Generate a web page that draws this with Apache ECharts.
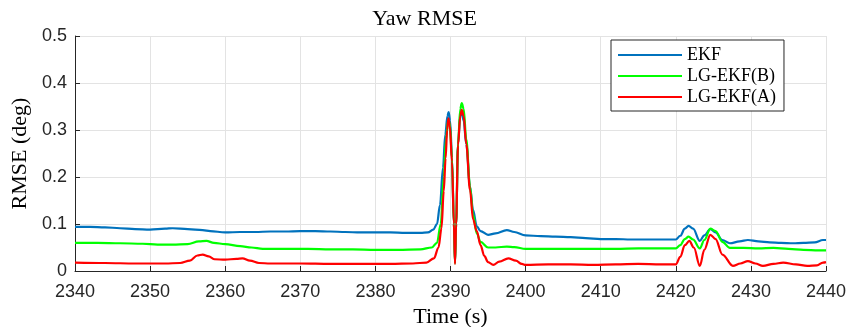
<!DOCTYPE html>
<html>
<head>
<meta charset="utf-8">
<script src="https://cdn.jsdelivr.net/npm/echarts@6/dist/echarts.min.js"></script>
<style>
  html, body { margin: 0; padding: 0; background: #fff; }
  #chart { width: 849px; height: 327px; }
</style>
</head>
<body>
<div id="chart"></div>
<script>
// Yaw RMSE of three filters over time (s)
const xTicks = [2340, 2350, 2360, 2370, 2380, 2390, 2400, 2410, 2420, 2430, 2440];
const yTicks = [0, 0.1, 0.2, 0.3, 0.4, 0.5];
const seriesNames = ['EKF', 'LG-EKF(B)', 'LG-EKF(A)'];

// EKF
const ekfT = [2340, 2342, 2344, 2346, 2348, 2350, 2352, 2353, 2355, 2357, 2358, 2360, 2362, 2364, 2366, 2368,
  2370, 2372, 2374, 2376, 2378, 2380, 2382, 2384, 2386, 2387, 2387.7, 2388.2, 2388.6, 2389.0, 2389.3, 2389.6,
  2389.75, 2389.95, 2390.2, 2390.45, 2390.6, 2390.75, 2391.0, 2391.3, 2391.5, 2391.75, 2392.1, 2392.6, 2393.0,
  2393.5, 2394, 2395, 2396, 2397.5, 2398.5, 2400, 2402, 2404, 2406, 2408, 2410, 2412, 2414, 2416, 2418, 2420,
  2420.6, 2421.2, 2421.7, 2422.3, 2423.2, 2423.8, 2424.6, 2425.3, 2426.2, 2427.2, 2428.5, 2429.6, 2431, 2432.5,
  2434, 2435.6, 2437, 2438.5, 2439.6, 2440];
const ekfV = [0.094, 0.094, 0.093, 0.091, 0.089, 0.088, 0.090, 0.091, 0.089, 0.087, 0.085, 0.082, 0.083, 0.083,
  0.084, 0.084, 0.085, 0.085, 0.084, 0.083, 0.082, 0.082, 0.082, 0.081, 0.081, 0.082, 0.088, 0.100, 0.14, 0.22,
  0.29, 0.33, 0.338, 0.32, 0.24, 0.10, 0.018, 0.10, 0.27, 0.33, 0.336, 0.32, 0.27, 0.18, 0.13,
  0.095, 0.085, 0.077, 0.080, 0.087, 0.083, 0.076, 0.074, 0.073, 0.072, 0.070, 0.068, 0.068, 0.067, 0.067, 0.067, 0.067,
  0.075, 0.090, 0.096, 0.090, 0.064, 0.076, 0.089, 0.082, 0.066, 0.059, 0.063, 0.066, 0.063, 0.061,
  0.060, 0.059, 0.060, 0.061, 0.066, 0.066];

// LG-EKF(B)
const lgbT = [2340, 2343, 2346, 2349, 2351, 2353, 2355, 2356.5, 2357.5, 2358.5, 2360, 2362, 2363.5, 2365, 2368,
  2371, 2374, 2377, 2380, 2383, 2386, 2387.5, 2388.2, 2388.7, 2389.1, 2389.4, 2389.7, 2389.9, 2390.2, 2390.45,
  2390.6, 2390.75, 2391.0, 2391.3, 2391.5, 2391.75, 2392.1, 2392.6, 2393.0, 2393.5, 2394, 2395, 2396, 2397.5,
  2398.5, 2400, 2403, 2406, 2409, 2412, 2415, 2418, 2420, 2420.6, 2421.2, 2421.7, 2422.3, 2423.2, 2423.8,
  2424.6, 2425.3, 2426.2, 2427.2, 2429, 2431, 2433, 2435, 2437, 2439, 2440];
const lgbV = [0.060, 0.060, 0.059, 0.058, 0.056, 0.056, 0.057, 0.063, 0.064, 0.060, 0.057, 0.053, 0.050, 0.047, 0.047,
  0.047, 0.046, 0.046, 0.045, 0.045, 0.046, 0.050, 0.060, 0.10, 0.20, 0.28, 0.322, 0.315, 0.24, 0.10,
  0.016, 0.10, 0.27, 0.345, 0.357, 0.345, 0.28, 0.18, 0.12, 0.08, 0.062, 0.050, 0.050, 0.052,
  0.051, 0.047, 0.047, 0.047, 0.047, 0.047, 0.048, 0.048, 0.048, 0.055, 0.068, 0.073, 0.067, 0.048, 0.066,
  0.090, 0.085, 0.062, 0.049, 0.049, 0.048, 0.049, 0.047, 0.045, 0.044, 0.044];

// LG-EKF(A)
const lgaT = [2340, 2344, 2348, 2352, 2354, 2355.3, 2356.3, 2357, 2357.8, 2358.6, 2360, 2361.5, 2362.3, 2363.3,
  2364.5, 2366, 2370, 2374, 2378, 2382, 2385, 2386.8, 2387.8, 2388.4, 2388.8, 2389.1, 2389.35, 2389.55, 2389.72,
  2389.9, 2390.2, 2390.45, 2390.6, 2390.75, 2391.0, 2391.3, 2391.5, 2391.75, 2392.1, 2392.6, 2393.0, 2393.5,
  2394, 2394.5, 2395, 2395.7, 2396.5, 2397.7, 2398.7, 2399.5, 2400, 2403, 2406, 2409, 2412, 2415, 2418, 2420,
  2420.6, 2421.2, 2421.8, 2422.4, 2423.2, 2423.8, 2424.6, 2425.3, 2426.2, 2427.6, 2428.6, 2429.6, 2430.6,
  2431.6, 2433, 2434.3, 2436, 2437.5, 2438.8, 2439.6, 2440];
const lgaV = [0.018, 0.017, 0.016, 0.016, 0.017, 0.022, 0.033, 0.035, 0.031, 0.025, 0.024, 0.026, 0.027, 0.022,
  0.017, 0.016, 0.016, 0.015, 0.015, 0.015, 0.016, 0.018, 0.027, 0.05, 0.091, 0.17, 0.24, 0.30, 0.325,
  0.31, 0.233, 0.10, 0.015, 0.10, 0.268, 0.33, 0.343, 0.33, 0.27, 0.172, 0.11, 0.085,
  0.055, 0.032, 0.019, 0.013, 0.020, 0.027, 0.022, 0.015, 0.013, 0.014, 0.014, 0.013, 0.014, 0.015, 0.014, 0.014,
  0.030, 0.055, 0.064, 0.050, 0.011, 0.045, 0.077, 0.068, 0.035, 0.011, 0.016, 0.021, 0.016,
  0.011, 0.015, 0.018, 0.014, 0.011, 0.012, 0.018, 0.019];

const colors = ['#0072BD', '#00FF00', '#FF0000'];
const pairs = (t, v) => t.map((x, i) => [x, v[i]]);
const seriesData = [pairs(ekfT, ekfV), pairs(lgbT, lgbV), pairs(lgaT, lgaV)];

const axisDark = '#262626';
const gridGray = '#e3e3e3';
const serif = '"Liberation Serif", "Times New Roman", serif';
const sans = '"Liberation Sans", Arial, Helvetica, sans-serif';

const chart = echarts.init(document.getElementById('chart'), null, { renderer: 'canvas' });
chart.setOption({
  animation: false,
  backgroundColor: '#fff',
  title: {
    text: 'Yaw RMSE',
    left: 'center',
    top: 8,
    padding: 0,
    textStyle: { fontFamily: serif, fontSize: 22, fontWeight: 'normal', color: '#000' }
  },
  grid: { left: 75, right: 23, top: 36, bottom: 56, containLabel: false, outerBoundsMode: 'none' },
  legend: {
    data: seriesNames,
    orient: 'vertical',
    left: 611,
    top: 40,
    padding: [5, 8, 4, 7],
    icon: 'rect',
    itemWidth: 64,
    itemHeight: 2,
    itemGap: 1,
    backgroundColor: '#fff',
    borderColor: axisDark,
    borderWidth: 1,
    borderRadius: 0,
    textStyle: { fontFamily: serif, fontSize: 18, color: '#000', lineHeight: 20 }
  },
  xAxis: {
    type: 'value',
    min: xTicks[0],
    max: xTicks[xTicks.length - 1],
    interval: 10,
    name: 'Time (s)',
    nameLocation: 'middle',
    nameGap: 27,
    nameTextStyle: { fontFamily: serif, fontSize: 22, color: '#000' },
    axisLine: { show: true, lineStyle: { color: axisDark, width: 1 } },
    axisTick: { show: true, inside: true, length: 5, lineStyle: { color: axisDark } },
    axisLabel: { margin: 12, fontFamily: sans, fontSize: 18, color: axisDark, formatter: v => String(v) },
    splitLine: { show: true, lineStyle: { color: gridGray, width: 1 } }
  },
  yAxis: {
    type: 'value',
    min: yTicks[0],
    max: yTicks[yTicks.length - 1],
    interval: 0.1,
    name: 'RMSE (deg)',
    nameLocation: 'middle',
    nameGap: 38,
    nameRotate: 90,
    nameTextStyle: { fontFamily: serif, fontSize: 22, color: '#000' },
    axisLine: { show: true, lineStyle: { color: axisDark, width: 1 } },
    axisTick: { show: true, inside: true, length: 5, lineStyle: { color: axisDark } },
    axisLabel: {
      margin: 8, fontFamily: sans, fontSize: 18, color: axisDark, padding: [6, 0, 0, 0],
      formatter: v => (v === 0 ? '0' : v.toFixed(1))
    },
    splitLine: { show: true, lineStyle: { color: gridGray, width: 1 } }
  },
  series: seriesNames.map((name, i) => ({
    name,
    type: 'line',
    data: seriesData[i],
    symbol: 'none',
    showSymbol: false,
    smooth: 0.35,
    smoothMonotone: 'x',
    color: colors[i],
    lineStyle: { color: colors[i], width: 2.2 },
    z: 2 + i
  }))
});
</script>
</body>
</html>
